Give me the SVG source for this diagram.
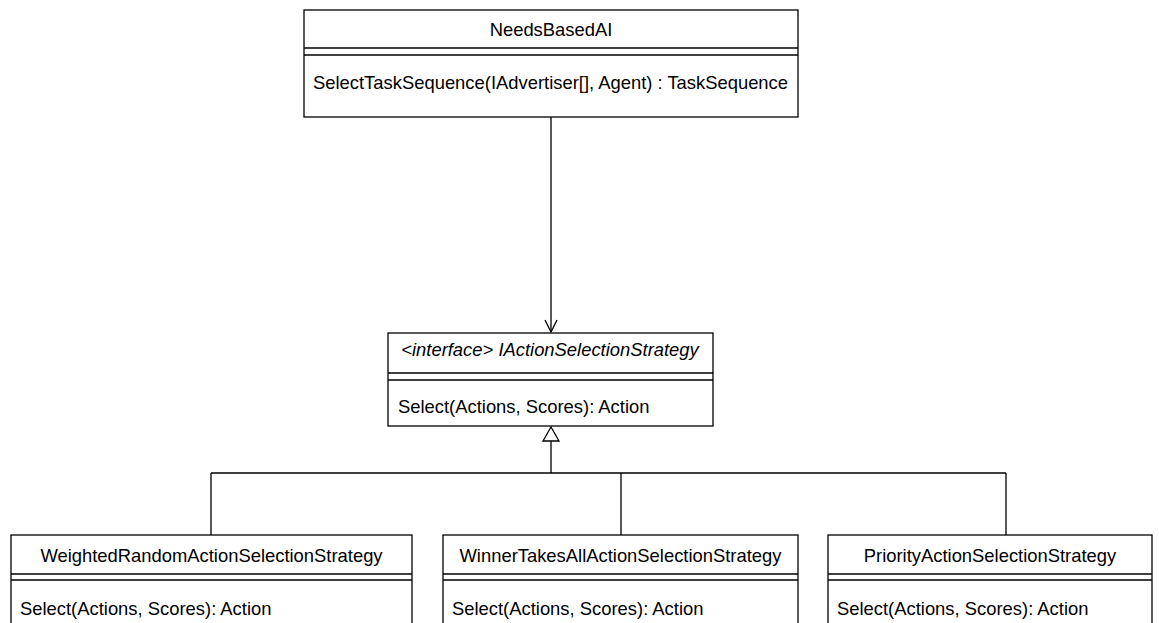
<svg xmlns="http://www.w3.org/2000/svg" width="1159" height="623" viewBox="0 0 1159 623">
<style>
.box{fill:#fff;stroke:#000;stroke-width:1.3}
.ln{stroke:#000;stroke-width:1.3;fill:none}
.t{font-family:"Liberation Sans",Arial,sans-serif;font-size:18.4px;fill:#000}
.c{text-anchor:middle}
.i{font-style:italic}
</style>
<rect width="1159" height="623" fill="#fff"/>
<g id="connectors">
<path class="ln" d="M551 117 V332"/>
<path class="ln" d="M545 320 L551 332 L557 320"/>
<path class="ln" d="M551 441 V473 M211 473 H1006 M211 473 V535 M621 473 V535 M1006 473 V535"/>
<polygon points="551,427 543,441 559,441" fill="#fff" stroke="#000" stroke-width="1.3"/>
</g>
<g id="NeedsBasedAI">
<rect class="box" x="304" y="10" width="494" height="107"/>
<path class="ln" d="M304 48 H798 M304 55 H798"/>
<text class="t c" x="551" y="36">NeedsBasedAI</text>
<text class="t" x="313" y="89">SelectTaskSequence(IAdvertiser[], Agent) : TaskSequence</text>
</g>
<g id="IActionSelectionStrategy">
<rect class="box" x="388" y="333" width="325" height="93"/>
<path class="ln" d="M388 373 H713 M388 380 H713"/>
<text class="t c i" x="550" y="356">&lt;interface&gt; IActionSelectionStrategy</text>
<text class="t" x="398" y="413">Select(Actions, Scores): Action</text>
</g>
<g id="WeightedRandomActionSelectionStrategy">
<rect class="box" x="11" y="535" width="401" height="110"/>
<path class="ln" d="M11 574 H412 M11 580 H412"/>
<text class="t c" x="211.5" y="562">WeightedRandomActionSelectionStrategy</text>
<text class="t" x="20" y="615">Select(Actions, Scores): Action</text>
</g>
<g id="WinnerTakesAllActionSelectionStrategy">
<rect class="box" x="443" y="535" width="355" height="110"/>
<path class="ln" d="M443 574 H798 M443 580 H798"/>
<text class="t c" x="620.5" y="562">WinnerTakesAllActionSelectionStrategy</text>
<text class="t" x="452" y="615">Select(Actions, Scores): Action</text>
</g>
<g id="PriorityActionSelectionStrategy">
<rect class="box" x="828" y="535" width="324" height="110"/>
<path class="ln" d="M828 574 H1152 M828 580 H1152"/>
<text class="t c" x="990" y="562">PriorityActionSelectionStrategy</text>
<text class="t" x="837" y="615">Select(Actions, Scores): Action</text>
</g>
</svg>
